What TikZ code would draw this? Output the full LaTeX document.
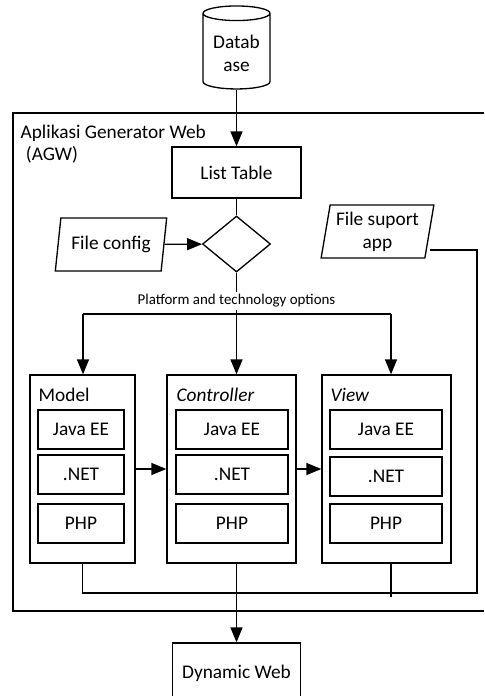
\documentclass[tikz,border=0pt]{standalone}
\usepackage{fontspec}
\setmainfont{Carlito}
\usetikzlibrary{arrows.meta,shapes.geometric,calc}

\begin{document}
\begin{tikzpicture}[
  x=0.02cm, y=-0.02cm,
  font=\fontsize{11}{13}\selectfont,
  line width=0.75pt,
  arr/.style={-{Triangle[length=3mm,width=2.4mm]}},
  box/.style={draw,minimum height=1.02cm,align=center},
  io/.style={draw,trapezium,trapezium left angle=80,trapezium right angle=100,
    trapezium stretches=true,align=center,minimum height=1.06cm},
  dbase/.style={draw,cylinder,shape border rotate=90,aspect=0.25,
    minimum width=1.34cm,minimum height=1.66cm,align=center},
  layer/.style={draw,minimum width=2.58cm,minimum height=3.76cm},
  tech/.style={draw,minimum width=2.24cm,minimum height=0.78cm},
  ttl/.style={anchor=west,inner sep=0pt},
  lbl/.style={font=\fontsize{8.5}{10}\selectfont,inner sep=1pt}]

\useasboundingbox (0,0) rectangle (484,696);

% outer application frame (runs off the right edge)
\draw (484,113) -- (13,113) -- (13,611) -- (484,611);
\node[anchor=north west,align=left,inner sep=0pt] (agw) at (20,124)
  {Aplikasi Generator Web\\\hspace*{3pt}(AGW)};

% ---- input side ----
\node[dbase] (db) at (236.5,53.5) {Datab\\ase};
\node[box,minimum width=2.58cm] (lst) at (236.5,172.5) {List Table};
\draw[arr] (db) -- (lst);
\node[draw,diamond,minimum width=1.36cm,minimum height=1.12cm,inner sep=0pt]
  (dec) at (236.5,244) {};
\draw (lst) -- (dec);
\node[io,minimum width=2.24cm] (cfg) at (111,244.5) {File config};
\draw[arr] (cfg) -- (dec);
\node[io,minimum width=2.22cm] (sup) at (377.5,231.5) {File suport\\app};

% ---- split into the three layers ----
\node[lbl] (opt) at (236.5,301) {Platform and technology options};
\draw (dec) -- (opt);
\coordinate (splitL) at (83,314);
\coordinate (splitC) at (236.5,314);
\coordinate (splitR) at (391,314);
\draw (splitL) -- (splitR);
\draw (opt) -- (splitC);

% ---- MVC layers ----
\node[layer,minimum width=2.1cm] (mdl) at (82.5,469) {};
\node[layer] (ctl) at (231.5,469) {};
\node[layer] (vw) at (386.5,469) {};
\node[ttl] (mdlT) at (38,395) {Model};
\node[ttl] (ctlT) at (176,395) {\textit{Controller}};
\node[ttl] (vwT) at (330,395) {\textit{View}};
\draw[arr] (splitL) -- (splitL |- mdl.north);
\draw[arr] (splitC) -- (splitC |- ctl.north);
\draw[arr] (splitR) -- (splitR |- vw.north);

\node[tech,minimum width=1.72cm] (mdlJ) at (81,429.5) {Java EE};
\node[tech,minimum width=1.72cm] (mdlN) at (81,474.5) {.NET};
\node[tech,minimum width=1.72cm] (mdlP) at (81,523.5) {PHP};
\node[tech] (ctlJ) at (232,429.5) {Java EE};
\node[tech] (ctlN) at (232,474.5) {.NET};
\node[tech] (ctlP) at (232,523.5) {PHP};
\node[tech] (vwJ) at (386,429.5) {Java EE};
\node[tech] (vwN) at (386,476.5) {.NET};
\node[tech] (vwP) at (386,523.5) {PHP};
\draw[arr] (mdl) -- (ctl);
\draw[arr] (ctl) -- (vw);

% ---- output and support-file return line ----
\node[box,minimum width=2.56cm,minimum height=1.2cm] (web) at (236.5,673)
  {Dynamic Web};
\draw[arr] (web |- ctl.south) -- (web);
\coordinate (supOut) at (430,250);
\coordinate (loopBR) at (477,593);
\draw (supOut) -| (loopBR) -| (mdl.south);
\coordinate (vwOut) at (391,597);
\draw (vwOut |- vw.south) -- (vwOut);
\end{tikzpicture}
\end{document}
